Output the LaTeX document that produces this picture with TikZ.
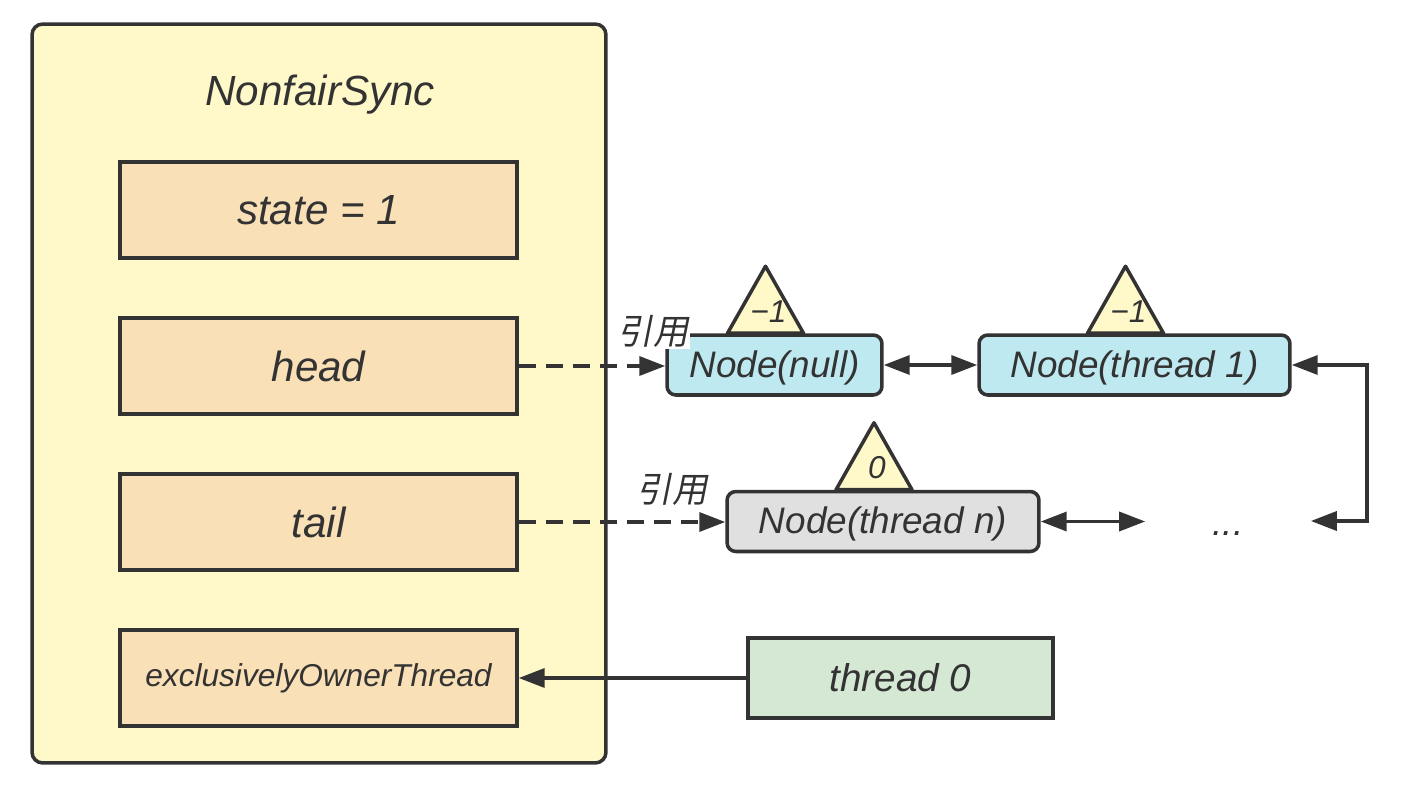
\documentclass[tikz,border=0pt]{standalone}
\usepackage{fontspec}
\setmainfont{Liberation Sans}
\newfontfamily\cjk[FakeSlant=0.2]{Noto Sans CJK SC}
\usepackage{xcolor}
\usetikzlibrary{positioning, arrows.meta, calc}
\definecolor{syncbg}{RGB}{255,249,202}
\definecolor{fieldbg}{RGB}{249,224,182}
\definecolor{nodebg}{RGB}{190,233,240}
\definecolor{tailbg}{RGB}{224,224,224}
\definecolor{ownerbg}{RGB}{213,232,212}
\definecolor{edge}{RGB}{51,51,51}

\begin{document}
\begin{tikzpicture}[x=0.02cm, y=-0.02cm,
        every node/.style={text=edge},
        syncbox/.style={draw=edge, line width=2pt, fill=syncbg, rounded corners=6pt, minimum width=11.48cm, minimum height=14.78cm},
        field/.style={draw=edge, line width=2pt, fill=fieldbg, minimum width=7.94cm, minimum height=1.92cm, font=\fontsize{24}{28}\selectfont\itshape},
        qnode/.style={draw=edge, line width=2pt, rounded corners=5pt, minimum height=1.2cm, text height=15pt, text depth=1pt, font=\fontsize{21}{25}\selectfont\itshape},
        tri/.style={draw=edge, line width=2pt, fill=syncbg, line join=round},
        ref/.style={fill=white, inner sep=1pt, font=\cjk\fontsize{20}{24}\selectfont},
        arr/.style={-{Triangle[length=0.52cm, width=0.38cm]}, line width=2pt, draw=edge},
        dbl/.style={{Triangle[length=0.52cm, width=0.38cm]}-{Triangle[length=0.52cm, width=0.38cm]}, line width=2pt, draw=edge},
        refline/.style={dash pattern=on 0.34cm off 0.2cm}
    ]
    \useasboundingbox (0,0) rectangle (1406,794);

    % NonfairSync
    \node[syncbox] (sync) at (319,393.5) {};
    \node[font=\fontsize{24}{28}\selectfont\itshape] (title) at (320,95) {NonfairSync};
    \node[field] (state) at (318.5,210) {state = 1};
    \node[field] (head) at (318.5,366) {head};
    \node[field] (tail) at (318.5,522) {tail};
    \node[field, font=\fontsize{18}{22}\selectfont\itshape] (owner) at (318.5,678) {exclusivelyOwnerThread};

    % Queue
    \node[qnode, fill=nodebg, minimum width=4.3cm] (nnull) at (774.5,365) {Node(null)};
    \node[qnode, fill=nodebg, minimum width=6.22cm] (nthr1) at (1134.5,365) {Node(thread 1)};
    \node[qnode, fill=tailbg, minimum width=6.24cm] (nthrn) at (883,521.5) {Node(thread n)};
    \node[minimum width=3.3cm, text height=17pt, text depth=0pt, font=\fontsize{21}{25}\selectfont\itshape] (dots) at (1228,521) {...};
    \node[draw=edge, line width=2pt, fill=ownerbg, minimum width=6.1cm, minimum height=1.6cm, font=\fontsize{22}{26}\selectfont\itshape] (thr0) at (900.5,678) {thread 0};

    % waitStatus
    \foreach \n/\v in {nnull/−1, nthr1/−1, nthrn/0} {
        \draw[tri] ($(\n.north)+(-47,0)$) -- ($(\n.north)+(-9,-67)$) -- ($(\n.north)+(29,0)$) -- cycle;
        \node[font=\fontsize{18}{20}\selectfont\itshape] at ($(\n.north)+(-6,-22)$) {\v};
    }

    % Arrows
    \draw[arr, refline] (head.east) -- (head.east -| nnull.west);
    \draw[arr, refline] (tail.east) -- (tail.east -| nthrn.west);
    \draw[dbl] (nnull) -- (nthr1);
    \draw[dbl] (nthrn.east) -- (nthrn.east -| dots.west);
    \draw[dbl] (dots.east) -- ++(56,0) |- (nthr1.east);
    \draw[arr] (thr0) -- (owner);

    \node[ref] (ref1) at (653,331) {引用};
    \node[ref] (ref2) at (672,489) {引用};

\end{tikzpicture}
\end{document}
